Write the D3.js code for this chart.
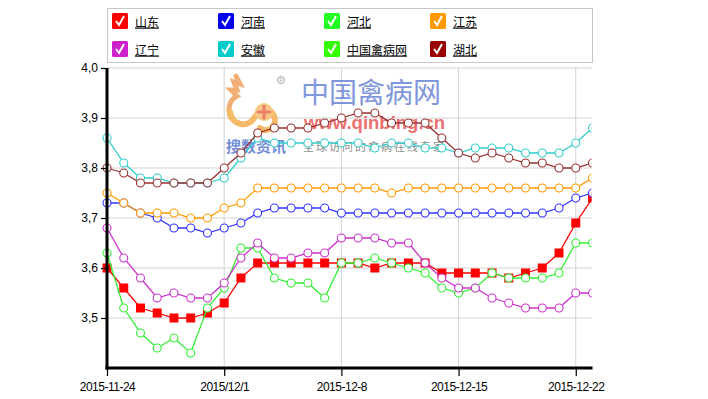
<!doctype html>
<html>
<head>
  <meta charset="utf-8">
  <style>
    body { margin: 0; background: #fff; }
    svg { display: block; font-family: "Liberation Sans", Arial, sans-serif; }
  </style>
  <script src="https://cdn.jsdelivr.net/npm/d3@7/dist/d3.min.js"></script>
</head>
<body>
<script>
// day index 0 = 2015-11-24, last value (index 29) is 2015-12-23 and gets clipped
var tickIdx = [0, 7, 14, 21, 28];
var tickLabels = ["2015-11-24", "2015/12/1", "2015-12-8", "2015-12-15", "2015-12-22"];
var yTicks = [3.5, 3.6, 3.7, 3.8, 3.9, 4.0];

var shandong = [3.60,3.56,3.52,3.51,3.50,3.50,3.51,3.53,3.58,3.61, 3.61,3.61,3.61,3.61,3.61,3.61,3.60,3.61,3.61,3.61, 3.59,3.59,3.59,3.59,3.58,3.59,3.60,3.63,3.69,3.74];
var henan    = [3.73,3.73,3.71,3.70,3.68,3.68,3.67,3.68,3.69,3.71, 3.72,3.72,3.72,3.72,3.71,3.71,3.71,3.71,3.71,3.71, 3.71,3.71,3.71,3.71,3.71,3.71,3.71,3.72,3.74,3.75];
var hebei    = [3.63,3.52,3.47,3.44,3.46,3.43,3.52,3.56,3.64,3.64, 3.58,3.57,3.57,3.54,3.61,3.61,3.62,3.61,3.60,3.59, 3.56,3.55,3.56,3.59,3.58,3.58,3.58,3.59,3.65,3.65];
var jiangsu  = [3.75,3.73,3.71,3.71,3.71,3.70,3.70,3.72,3.73,3.76, 3.76,3.76,3.76,3.76,3.76,3.76,3.76,3.75,3.76,3.76, 3.76,3.76,3.76,3.76,3.76,3.76,3.76,3.76,3.76,3.78];
var liaoning = [3.68,3.62,3.58,3.54,3.55,3.54,3.54,3.57,3.62,3.65, 3.62,3.62,3.63,3.63,3.66,3.66,3.66,3.65,3.65,3.61, 3.58,3.56,3.56,3.54,3.53,3.52,3.52,3.52,3.55,3.55];
var anhui    = [3.86,3.81,3.78,3.78,3.77,3.77,3.77,3.78,3.82,3.86, 3.85,3.85,3.85,3.85,3.85,3.85,3.84,3.85,3.85,3.84, 3.84,3.83,3.84,3.84,3.84,3.83,3.83,3.83,3.85,3.88];
var qinbing  = [];
var hubei    = [3.80,3.79,3.77,3.77,3.77,3.77,3.77,3.80,3.83,3.87, 3.88,3.88,3.88,3.89,3.90,3.91,3.91,3.89,3.89,3.89, 3.86,3.83,3.82,3.83,3.82,3.81,3.81,3.80,3.80,3.81];

var names = ["山东", "河南", "河北", "江苏", "辽宁", "安徽", "中国禽病网", "湖北"];
var values = [shandong, henan, hebei, jiangsu, liaoning, anhui, qinbing, hubei];
var lineColors = ["#ff0000", "#3333ff", "#33ee33", "#ff9900", "#cc33cc", "#33cccc", "#33ff00", "#993333"];
var boxColors  = ["#ff0000", "#0000ee", "#22ff22", "#ff9900", "#cc22cc", "#00cccc", "#33ff00", "#990000"];

var W = 708, H = 399;
var svg = d3.select("body").append("svg").attr("width", W).attr("height", H);

var x = d3.scaleLinear().domain([0, 29]).range([107, 592.5]);
var y = d3.scaleLinear().domain([3.4, 4.0]).range([368, 68]);

// grid
svg.append("g").selectAll("line").data(yTicks).enter().append("line")
  .attr("x1", 107).attr("x2", 592).attr("y1", d => y(d)).attr("y2", d => y(d))
  .attr("stroke", "#d2d2d2");
svg.append("g").selectAll("line").data(tickIdx.slice(1)).enter().append("line")
  .attr("x1", d => x(d)).attr("x2", d => x(d)).attr("y1", 68).attr("y2", 368)
  .attr("stroke", "#d2d2d2");

// watermark
var wm = svg.append("g").attr("opacity", 0.85);
var logo = wm.append("g").attr("fill", "none").attr("stroke-linecap", "round");
logo.append("path").attr("d", "M236,76 l4,8 l-6,-2 l3,8 l-6,0 l6,6 c-8,4 -10,14 -6,22")
  .attr("stroke", "#f0a060").attr("stroke-width", 5);
logo.append("path").attr("d", "M230,112 c2,14 18,16 24,6 c6,-10 16,-12 20,-2 c4,10 -6,18 -14,12")
  .attr("stroke", "#f5b050").attr("stroke-width", 6);
logo.append("circle").attr("cx", 264).attr("cy", 112).attr("r", 9).attr("fill", "#f6c070");
logo.append("path").attr("d", "M264,106 v12 M258,112 h12").attr("stroke", "#e86a50").attr("stroke-width", 3);
wm.append("circle").attr("cx", 281).attr("cy", 80).attr("r", 3.5).attr("fill", "none").attr("stroke", "#999");
wm.append("text").attr("x", 281).attr("y", 82).attr("text-anchor", "middle").attr("font-size", 5).attr("fill", "#999").text("R");
wm.append("text").attr("x", 301).attr("y", 103)
  .attr("font-family", "Noto Sans CJK SC").attr("font-size", 28).attr("fill", "#6a86d6").text("中国禽病网");
wm.append("text").attr("x", 304).attr("y", 129)
  .attr("font-size", 18.5).attr("font-weight", "bold").attr("fill", "#e65858").text("www.qinbing.cn");
wm.append("text").attr("x", 226).attr("y", 152)
  .attr("font-family", "Noto Sans CJK SC").attr("font-size", 15).attr("font-weight", "bold").attr("fill", "#5a7ad0").text("搜数资讯");
wm.append("text").attr("x", 303).attr("y", 151)
  .attr("font-family", "Noto Sans CJK SC").attr("font-size", 11).attr("letter-spacing", "2px").attr("fill", "#777").text("全球访问的禽病在线专家");

// series
svg.append("clipPath").attr("id", "plot").append("rect")
  .attr("x", 100).attr("y", 60).attr("width", 491.5).attr("height", 316);

var line = d3.line().x((d, i) => x(i)).y(d => y(d));
var plot = svg.append("g").attr("clip-path", "url(#plot)");

values.forEach(function(vals, s) {
  if (!vals.length) return;
  var g = plot.append("g");
  g.append("path").datum(vals).attr("d", line)
    .attr("fill", "none").attr("stroke", lineColors[s]).attr("stroke-width", 1.3);
  if (s === 0) {
    g.selectAll("rect").data(vals).enter().append("rect")
      .attr("x", (d, i) => x(i) - 4.5).attr("y", d => y(d) - 4.5)
      .attr("width", 9).attr("height", 9).attr("fill", lineColors[s]);
  } else {
    g.selectAll("circle").data(vals).enter().append("circle")
      .attr("cx", (d, i) => x(i)).attr("cy", d => y(d)).attr("r", 4)
      .attr("fill", "#fff").attr("stroke", lineColors[s]).attr("stroke-width", 1.1);
  }
});

// axes
var yAxis = svg.append("g").attr("transform", "translate(107,0)")
  .call(d3.axisLeft(y).tickValues(yTicks).tickSize(6).tickSizeOuter(0)
    .tickFormat(d => d3.format(".1f")(d).replace(".", ",")));
var xAxis = svg.append("g").attr("transform", "translate(0,368)")
  .call(d3.axisBottom(x).tickValues(tickIdx).tickSize(8).tickSizeOuter(0)
    .tickFormat((d, i) => tickLabels[i]));
[yAxis, xAxis].forEach(function(a) {
  a.select(".domain").attr("stroke", "#000").attr("stroke-width", 3);
  a.selectAll(".tick line").attr("stroke", "#000").attr("stroke-width", 1.2);
  a.selectAll("text").attr("fill", "#000").attr("font-size", 12)
    .attr("font-family", "Liberation Sans, Arial, sans-serif");
});
yAxis.select(".domain").attr("d", "M0,68V369.5");
xAxis.select(".domain").attr("d", "M105.5,0H592.5");
yAxis.selectAll("text").attr("x", -9);
xAxis.selectAll("text").attr("y", 14).attr("letter-spacing", "-0.5px");

// legend
var lg = svg.append("g");
lg.append("rect").attr("x", 107.5).attr("y", 8.5).attr("width", 485).attr("height", 54)
  .attr("fill", "#fff").attr("stroke", "#c8c8c8");
var item = lg.selectAll("g.item").data(names).enter().append("g")
  .attr("transform", (d, i) => "translate(" + (112 + (i % 4) * 106) + "," + (13 + Math.floor(i / 4) * 28) + ")");
item.append("rect").attr("width", 16).attr("height", 16).attr("rx", 1.5)
  .attr("fill", (d, i) => boxColors[i]);
item.append("path").attr("d", "M4,8 L7,12 L12,3")
  .attr("fill", "none").attr("stroke", "#fff").attr("stroke-width", 2);
item.append("text").attr("x", 23).attr("y", 13.5)
  .attr("font-family", "Noto Sans CJK SC").attr("font-size", 12)
  .attr("text-decoration", "underline").attr("fill", "#000")
  .text(d => d);
</script>
</body>
</html>
